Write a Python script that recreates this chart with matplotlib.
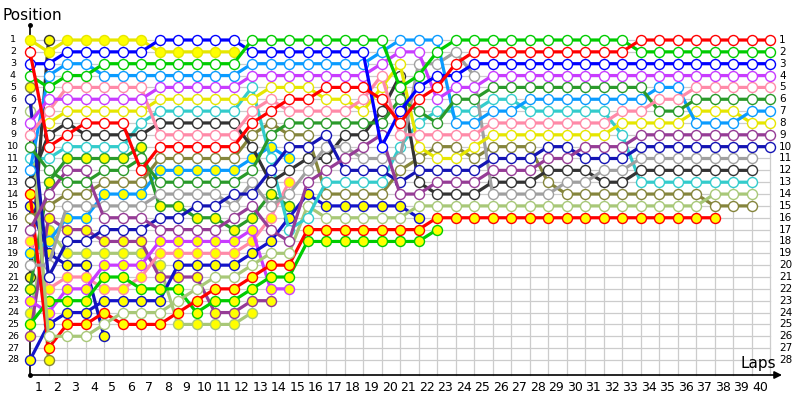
import numpy as np
import matplotlib.pyplot as plt

plt.rcParams['font.family'] = ['DejaVu Sans']

# ---- lap chart data: position per lap, starting at start lap ----
# white-marker drivers
red_w = [2,10,9,8,8,8,12,10,10,10,10,10,8,7,6,6,5,5,5,6,8,6,5,3,2,2,2,2,2,2,2,2,2,1,1,1,1,1,1,1,1]
green_w = [4,5,4,4,3,3,3,3,3,3,3,3,1,1,1,1,1,1,1,1,5,4,2,1,1,1,1,1,1,1,1,1,1,2,2,2,2,2,2,2,2]
blue_w = [3,3,2,2,2,2,2,1,1,1,1,1,2,2,2,2,2,2,2,10,7,5,4,4,3,3,3,3,3,3,3,3,3,3,3,3,3,3,3,3,3]
violet_w = [8,6,6,6,6,6,6,5,5,5,5,5,4,4,4,4,4,4,4,3,2,2,6,5,5,4,4,4,4,4,4,4,4,4,4,4,4,4,4,4,4]
pink_w = [9,7,5,5,5,5,5,9,9,9,9,9,7,6,7,7,7,7,6,4,9,9,9,9,9,8,8,8,8,8,8,8,7,7,6,6,5,5,5,5,5]
dkgreen_w = [10,12,13,13,12,12,11,13,13,13,13,13,12,9,8,8,8,8,8,8,6,7,8,6,6,5,5,5,5,5,5,5,5,5,7,7,6,6,6,6,6]
sky_w = [12,4,3,3,4,4,4,4,4,4,4,4,3,3,3,3,3,3,3,2,1,1,1,8,8,7,7,6,6,6,6,6,6,6,5,5,8,8,8,7,7]
yellow_w = [8,7,7,7,7,7,6,6,6,6,6,6,5,5,5,6,6,7,5,3,10,11,11,10,9,9,9,9,9,9,9,8,8,8,8,7,7,7,8,8]
purple_w = [17,14,12,12,16,16,16,17,17,17,17,16,15,17,18,13,12,11,10,9,14,14,13,13,13,12,12,12,11,11,10,10,10,9,9,9,9,9,9,9,9]
navy_w = [6,21,18,18,17,17,17,16,16,15,15,14,14,12,10,10,9,12,12,12,13,12,12,12,12,11,11,11,10,10,11,11,11,10,10,10,10,10,10,10,10]
grey_w = [20,20,15,15,15,15,15,14,14,14,14,15,13,15,14,12,10,10,11,11,11,3,3,2,4,14,14,14,14,13,13,12,12,11,11,11,11,11,11,11]
black_w = [13,9,8,9,9,9,9,8,8,8,8,8,10,13,12,11,11,9,9,7,4,13,14,14,14,13,13,13,12,12,12,13,13,12,12,12,12,12,12,12]
cyan_w = [11,11,10,10,10,10,8,7,7,7,7,7,5,11,17,16,13,13,13,13,10,8,7,7,7,6,6,7,7,7,7,7,9,13,13,13,13,13,13,13]
ltgreen_w = [7,26,26,26,25,24,24,24,23,22,21,21,20,19,19,15,16,16,16,16,16,15,15,15,15,15,15,15,15,15,15,15,15,15,15,15,15,14,14,14]
olive_w = [16,15,14,14,13,13,13,11,11,11,11,11,9,8,9,9,14,14,14,14,12,11,10,10,11,10,10,10,13,14,14,14,14,14,14,14,14,15,15,15]

# yellow-filled-marker drivers
red_f = [14,27,25,25,24,25,25,25,24,23,22,22,21,20,20,17,17,17,17,17,17,17,16,16,16,16,16,16,16,16,16,16,16,16,16,16,16,16]
green_f = [25,23,23,23,21,21,22,22,22,24,23,23,22,21,21,18,18,18,18,18,18,18,17]
blue_f = [28,25,24,24,23,23,23,23,20,20,20,20,19,18,16,14,15,15,15,15,15,16]
yellow_f = [1,2,1,1,1,1,1,2,2,2,2,2]
black_f = [21,1]
olive_f = [5,28]
navy_f = [15,19,20,20,26]
dkgreen_f = [22,13,11,11,11,11,10,15,15,16,16,17,16,14,15]
sky_f = [19,18,16,16,14,14,14,12,12,12,12,12,11,10,11]
violet_f = [23,24,22,22,20,20,20,18,18,18,18,18,17,22,22]
pink_f = [18,22,21,21,22,22,21,19,19,19,19,19,18,16,13]
purple_f = [26,16,17,17,18,18,18,21,21,21,24,24,23,23]
ltgreen_f = [24,17,19,19,19,19,19,20,25,25,25,25,24]

# (positions, first lap, colour, filled)
drivers = [
    (olive_f, 0, '#85853c', True), (black_f, 0, '#333333', True),
    (navy_f, 0, '#1414b4', True), (ltgreen_f, 0, '#a8c878', True),
    (purple_f, 0, '#963c96', True), (pink_f, 0, '#ff8aa8', True),
    (violet_f, 0, '#c83cff', True), (sky_f, 0, '#0a9bff', True),
    (dkgreen_f, 0, '#2a9a2a', True), (yellow_f, 0, '#e6e600', True),
    (blue_f, 0, '#1414c8', True), (green_f, 0, '#00cc00', True),
    (red_f, 0, '#ff0000', True),
    (olive_w, 0, '#85853c', False), (ltgreen_w, 0, '#a8c878', False),
    (cyan_w, 0, '#33cccc', False), (black_w, 0, '#333333', False),
    (grey_w, 0, '#a0a0a0', False), (navy_w, 0, '#1414b4', False),
    (purple_w, 0, '#963c96', False), (yellow_w, 1, '#e6e600', False),
    (sky_w, 0, '#0a9bff', False), (dkgreen_w, 0, '#2a9a2a', False),
    (pink_w, 0, '#ff8aa8', False), (violet_w, 0, '#c83cff', False),
    (blue_w, 0, '#0000ff', False), (green_w, 0, '#00cc00', False),
    (red_w, 0, '#ff0000', False),
]

n_laps = 40
n_pos = 28

# pixel -> data helpers (figure is 800x400 px, axes fill it)
def px_x(px):
    return (px - 30) / 18.5

def px_y(py):
    return 1 + (py - 40) / 11.85

fig = plt.figure(figsize=(8, 4), dpi=100)
ax = fig.add_axes([0, 0, 1, 1])
ax.set_xlim(px_x(0), px_x(800))
ax.set_ylim(px_y(400), px_y(0))
ax.axis('off')

axis_y = px_y(375)

# grid
for p in range(1, n_pos + 1):
    ax.plot([0, n_laps], [p, p], color='#cccccc', lw=0.9, zorder=1)
for k in range(1, n_laps + 1):
    ax.plot([k, k], [1, axis_y], color='#cccccc', lw=0.9, zorder=1)

# axes with arrows
ax.plot([0, 0], [axis_y, px_y(25)], color='k', lw=1.2, zorder=2)
ax.plot([0], [px_y(25)], 'ko', ms=2.5, zorder=2)
ax.plot([0], [axis_y], 'ko', ms=2.5, zorder=2)
ax.annotate('', xy=(px_x(782), axis_y), xytext=(0, axis_y),
            arrowprops=dict(arrowstyle='-|>', color='k', lw=1.2,
                            mutation_scale=11, shrinkA=0, shrinkB=0))

# driver lines
for pos, start, col, filled in drivers:
    x = np.arange(start, start + len(pos))
    ax.plot(x, pos, '-o', color=col, lw=2.3, ms=7.2,
            mfc='#ffff00' if filled else 'white', mec=col, mew=1.0,
            zorder=3, clip_on=False)

# labels
for p in range(1, n_pos + 1):
    ax.text(px_x(13), p, str(p), ha='center', va='center', fontsize=6.8)
    ax.text(px_x(779), p, str(p), ha='left', va='center', fontsize=7.5)
for k in range(1, n_laps + 1):
    ax.text(k - 0.55, px_y(388), str(k), ha='center', va='center', fontsize=9)

ax.text(px_x(3), px_y(15), 'Position', ha='left', va='center', fontsize=11)
ax.text(px_x(741), px_y(364), 'Laps', ha='left', va='center', fontsize=11)

fig.savefig('out.png', dpi=100)
